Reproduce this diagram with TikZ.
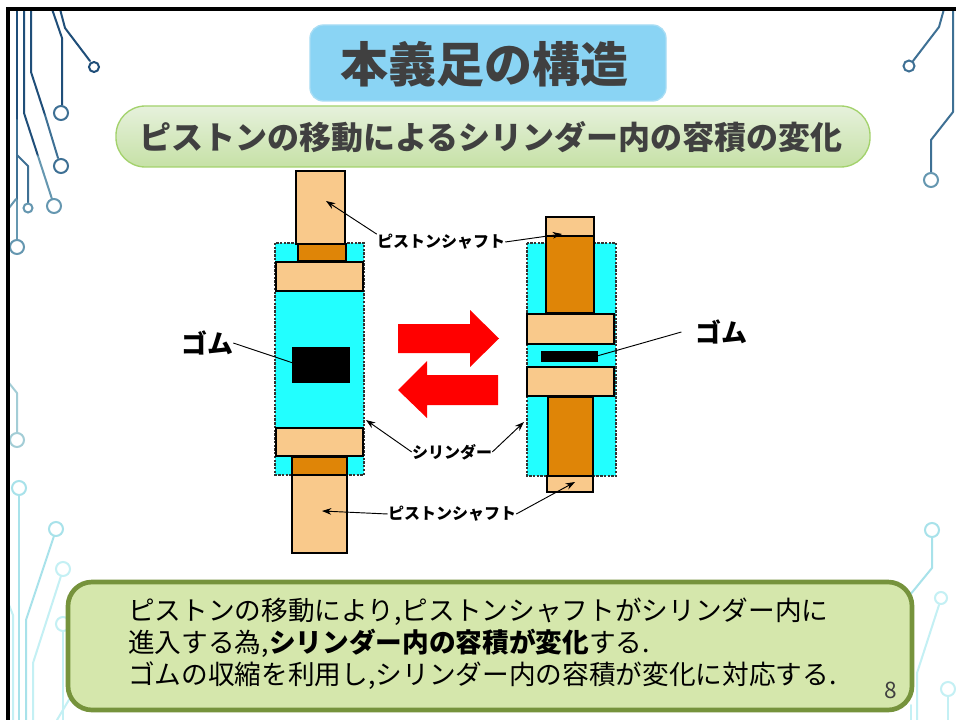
\documentclass[tikz,border=0pt]{standalone}
\usepackage{fontspec}
\setmainfont{Noto Sans CJK JP}
\usetikzlibrary{arrows.meta}

\definecolor{inkgrey}{HTML}{404040}
\definecolor{titlefill}{HTML}{8AD4F4}
\definecolor{titleedge}{HTML}{A8DDF4}
\definecolor{subtop}{HTML}{E6F1DC}
\definecolor{subbot}{HTML}{C6E1A6}
\definecolor{subedge}{HTML}{A3D26C}
\definecolor{notefill}{HTML}{D5E7AC}
\definecolor{noteedge}{HTML}{76933C}
\definecolor{shaftlight}{HTML}{F9C98B}
\definecolor{shaftdark}{HTML}{DF8507}
\definecolor{borecyan}{HTML}{22FFFF}
\definecolor{tracedark}{HTML}{1F4E79}
\definecolor{tracemid}{HTML}{3E7094}
\definecolor{tracelow}{HTML}{6597B0}
\definecolor{tracepale}{HTML}{A3CDD6}
\definecolor{tracecyan}{HTML}{A8E2EA}
\definecolor{tracefaint}{HTML}{C4F0F4}

\begin{document}
\begin{tikzpicture}[x=0.75pt,y=-0.75pt,
  trace/.style={line width=1.5pt, line cap=round, line join=round, draw=#1},
  pad/.style={line width=1.5pt, draw=#1, fill=white},
  part/.style={draw=black, line width=2pt},
  shaft/.style={part, fill=shaftlight},
  rod/.style={part, fill=shaftdark},
  bore/.style={fill=borecyan, draw=black!80, densely dotted, line width=1.8pt},
  rubber/.style={fill=black},
  lead/.style={line width=0.7pt, -{Stealth[length=7pt,width=5pt]}},
  callout/.style={font=\bfseries\fontsize{12}{12}\selectfont, inner sep=0pt},
  gum/.style={font=\bfseries\fontsize{19.5}{20}\selectfont, inner sep=0pt}]

\useasboundingbox (0,0) rectangle (956,720);
\fill[white] (0,0) rectangle (956,720);

% ---------- circuit traces, upper left ----------
\draw[trace=tracedark] (17,9) -- (17,120);
\draw[trace=tracemid] (17,120) -- (17,200);
\draw[trace=tracelow] (17,200) -- (17,240);
\draw[trace=tracemid] (17,155) -- (28,166) -- (28,203);
\draw[trace=tracelow] (9,208) -- (16,199);
\draw[pad=tracelow] (17,247) circle (7);
\draw[pad=tracelow] (28,208) circle (4.5);
\draw[trace=tracedark] (24,9) -- (24,113) -- (38,156);
\draw[trace=tracelow] (38,156) -- (52,199);
\draw[pad=tracelow] (54,206) circle (7);
\draw[trace=tracedark] (31,9) -- (31,72) -- (45,115);
\draw[trace=tracemid] (45,115) -- (58,158);
\draw[pad=tracemid] (61,166) circle (7);
\draw[trace=tracedark] (52,9) -- (62,38) -- (62,105);
\draw[pad=tracemid] (61,113) circle (7);
\draw[trace=tracedark] (60,9) -- (65,28) -- (90,61);
\draw[pad=tracedark] (94,67) circle (5);

% ---------- circuit traces, upper right ----------
\draw[trace=tracemid] (944,9) -- (939,27) -- (913,61);
\draw[pad=tracemid] (909,66) circle (5.5);
\draw[trace=tracemid] (953,9) -- (953,112) -- (931,140) -- (931,172);
\draw[pad=tracelow] (931,180) circle (7);

% ---------- circuit traces, lower left ----------
\draw[trace=tracepale] (9,383) -- (17,393) -- (17,433);
\draw[pad=tracepale] (17,440) circle (7);
\draw[trace=tracecyan] (19,495) -- (19,720);
\draw[pad=tracecyan] (19,488) circle (7);
\draw[trace=tracecyan] (54,536) -- (26,620) -- (26,720);
\draw[pad=tracecyan] (56,529) circle (7);
\draw[trace=tracefaint] (61,576) -- (33,663) -- (33,720);
\draw[pad=tracefaint] (63,569) circle (7);
\draw[trace=tracefaint] (63,631) -- (63,720);
\draw[pad=tracefaint] (63,624) circle (7);
\draw[trace=tracefaint] (9,605) -- (13,615) -- (13,720);
\draw[trace=tracefaint] (57,720) -- (70,698);

% ---------- circuit traces, lower right ----------
\draw[trace=tracecyan] (932,537) -- (932,568) -- (905,601);
\draw[pad=tracecyan] (932,530) circle (7);
\draw[trace=tracefaint] (939,605) -- (917,673) -- (917,720);
\draw[pad=tracefaint] (941,598) circle (6);
\draw[trace=tracefaint] (948,696) -- (948,720);
\draw[pad=tracefaint] (948,689) circle (7);
\draw[trace=tracefaint] (911,705) -- (911,720);

% ---------- slide frame ----------
\draw[line width=2.4pt, line cap=rect] (8,722) -- (8,9) -- (958,9);

% ---------- headings ----------
\draw[fill=titlefill, draw=titleedge, line width=1pt, rounded corners=10pt]
  (310,25) rectangle (666,101);
\node[font=\bfseries\fontsize{36}{40}\selectfont, text=inkgrey, inner sep=0pt]
  (title) at (484,64) {本義足の構造};

\draw[top color=subtop, bottom color=subbot, draw=subedge, line width=1pt,
  rounded corners=22pt] (116,106) rectangle (870,167);
\node[font=\bfseries\fontsize{24}{26}\selectfont, text=inkgrey, inner sep=0pt]
  (subtitle) at (491,137) {ピストンの移動によるシリンダー内の容積の変化};

% ---------- left assembly (extended) ----------
\draw[bore] (275,243) rectangle (364,475);
\draw[shaft] (296,171) rectangle (345,244);
\draw[rod] (298,244) rectangle (346,261);
\draw[shaft] (276,262) rectangle (363,291);
\draw[shaft] (276,428) rectangle (363,456);
\draw[rod] (292,457) rectangle (347,475);
\draw[shaft] (292,475) rectangle (347,553);
\fill[rubber] (292,347) rectangle (350,383);

% ---------- right assembly (compressed) ----------
\draw[bore] (527,243) rectangle (616,476);
\draw[shaft] (546,217) rectangle (594,236);
\draw[rod] (546,236) rectangle (594,313);
\draw[shaft] (527,314) rectangle (614,344);
\fill[rubber] (541,351) rectangle (598,362);
\draw[shaft] (527,367) rectangle (614,396);
\draw[rod] (548,397) rectangle (593,476);
\draw[shaft] (547,476) rectangle (593,492);

% ---------- motion arrows ----------
\fill[red] (398,324) -- (470,324) -- (470,310) -- (499,338.5) -- (470,367)
  -- (470,353) -- (398,353) -- cycle;
\fill[red] (498,375) -- (427,375) -- (427,361) -- (398,390) -- (427,418)
  -- (427,405) -- (498,405) -- cycle;

% ---------- callout targets ----------
\coordinate (shaftTopL) at (326,201);
\coordinate (shaftTopR) at (562,234);
\coordinate (cylL) at (366,420);
\coordinate (cylR) at (524,422);
\coordinate (shaftBotL) at (322,511);
\coordinate (shaftBotR) at (575,482);
\coordinate (gumL) at (293,363);
\coordinate (gumR) at (597,356);

% ---------- callouts ----------
\node[callout] (psTop) at (441,242) {ピストンシャフト};
\node[callout] (cyl) at (452,452) {シリンダー};
\node[callout] (psBot) at (452,514) {ピストンシャフト};
\node[gum] (gumTextL) at (207,343) {ゴム};
\node[gum] (gumTextR) at (721,332) {ゴム};

\draw[lead] (psTop.north west) -- (shaftTopL);
\draw[lead] (psTop.east) -- (shaftTopR);
\draw[lead] (cyl.west) -- (cylL);
\draw[lead] (cyl.east) -- (cylR);
\draw[lead] (psBot.west) -- (shaftBotL);
\draw[lead] (psBot.east) -- (shaftBotR);
\draw[line width=0.7pt] (gumTextL.east) -- (gumL);
\draw[line width=0.7pt] ([xshift=-10]gumTextR.west) -- (gumR);

% ---------- note box ----------
\draw[fill=notefill, draw=noteedge, line width=3.5pt, rounded corners=18pt]
  (68,582) rectangle (912,710);
\node[anchor=west, align=left, inner sep=0pt, font=\fontsize{20}{24}\selectfont]
  (note) at (128,644)
  {ピストンの移動により,ピストンシャフトがシリンダー内に\\
   進入する為,\textbf{シリンダー内の容積が変化}する.\\
   ゴムの収縮を利用し,シリンダー内の容積が変化に対応する.};
\node[font=\fontsize{17}{18}\selectfont, text=inkgrey, inner sep=0pt]
  (page) at (891,690) {8};

\end{tikzpicture}
\end{document}
